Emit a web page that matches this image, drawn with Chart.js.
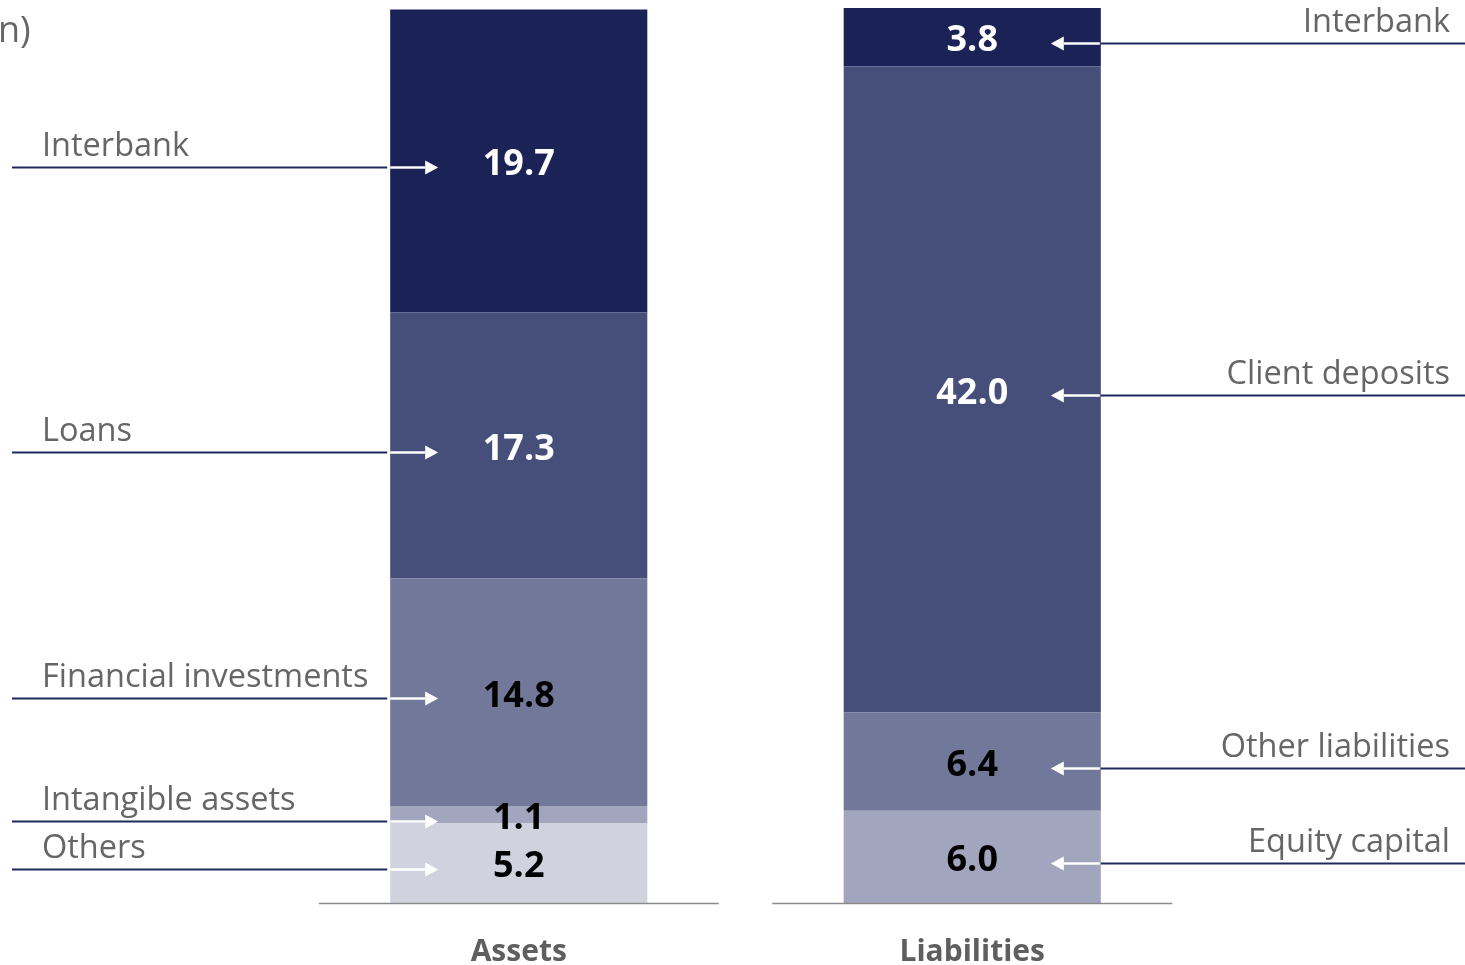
<!DOCTYPE html>
<html>
<head>
<meta charset="utf-8">
<title>Balance sheet structure</title>
<script src="https://cdn.jsdelivr.net/npm/chart.js@4.4.1/dist/chart.umd.min.js"></script>
<style>
  html, body { margin: 0; padding: 0; background: #fff; overflow: hidden; }
  #wrap { width: 1465px; height: 965px; position: relative; }
</style>
</head>
<body>
<div id="wrap"><canvas id="balanceChart"></canvas></div>
<script>
const categories = ['Assets', 'Liabilities'];
// listed bottom to top, as stacked
const assetItems = ['Others', 'Intangible assets', 'Financial investments', 'Loans', 'Interbank'];
const assetValues = [5.2, 1.1, 14.8, 17.3, 19.7];
const liabilityItems = ['Equity capital', 'Other liabilities', 'Client deposits', 'Interbank'];
const liabilityValues = [6.0, 6.4, 42.0, 3.8];
const unitNote = 'n)';

// darkest on top of each bar
const shades = ['#1a2256', '#454f7a', '#727899', '#a1a5bd', '#d0d2de'];
const leaderColor = '#1f2a5c';
const textGray = '#666666';
const fontFamily = '"Open Sans", "Noto Sans", sans-serif';

const datasets = [];
assetItems.forEach((name, i) => {
    const rank = assetItems.length - 1 - i;
    datasets.push({
        label: name,
        data: [assetValues[i], null],
        backgroundColor: shades[rank],
        side: 'left',
        cat: 0,
        valueColor: rank < 2 ? '#ffffff' : '#000000'
    });
});
liabilityItems.forEach((name, i) => {
    const rank = liabilityItems.length - 1 - i;
    datasets.push({
        label: name,
        data: [null, liabilityValues[i]],
        backgroundColor: shades[rank],
        side: 'right',
        cat: 1,
        valueColor: rank < 2 ? '#ffffff' : '#000000'
    });
});

function hLine(ctx, x1, x2, y, color, width) {
    ctx.beginPath();
    ctx.strokeStyle = color;
    ctx.lineWidth = width;
    ctx.moveTo(x1, y);
    ctx.lineTo(x2, y);
    ctx.stroke();
}

function whiteArrow(ctx, from, to, y) {
    const dir = Math.sign(to - from);
    const headStart = to - dir * 13;
    hLine(ctx, from, headStart, y, '#ffffff', 2.5);
    ctx.beginPath();
    ctx.fillStyle = '#ffffff';
    ctx.moveTo(to, y);
    ctx.lineTo(headStart, y - 7);
    ctx.lineTo(headStart, y + 7);
    ctx.closePath();
    ctx.fill();
}

const notesPlugin = {
    id: 'balanceNotes',
    afterDatasetsDraw(chart) {
        const { ctx, chartArea, scales: { x } } = chart;
        ctx.save();

        // separate baseline under each bar
        categories.forEach((c, i) => {
            const cx = x.getPixelForValue(i);
            hLine(ctx, cx - 200, cx + 200, chartArea.bottom + 0.5, '#8a8a8a', 1.5);
        });

        chart.data.datasets.forEach((ds, di) => {
            const bar = chart.getDatasetMeta(di).data[ds.cat];
            const cy = (bar.y + bar.base) / 2;
            const left = bar.x - bar.width / 2;
            const right = bar.x + bar.width / 2;
            const value = ds.data[ds.cat];

            ctx.font = 'bold 36px ' + fontFamily;
            ctx.fillStyle = ds.valueColor;
            ctx.textAlign = 'center';
            ctx.textBaseline = 'middle';
            ctx.fillText(value.toFixed(1), bar.x, cy + 4);

            const ly = Math.round(cy + 6) + 0.5;
            if (ds.side === 'left') {
                hLine(ctx, 12, left - 3, ly, leaderColor, 2);
                whiteArrow(ctx, left, left + 48, ly);
            } else {
                hLine(ctx, right, chart.width, ly, leaderColor, 2);
                whiteArrow(ctx, right - 1, right - 50, ly);
            }

            ctx.font = '32.5px ' + fontFamily;
            ctx.fillStyle = textGray;
            ctx.textBaseline = 'alphabetic';
            ctx.textAlign = ds.side === 'left' ? 'left' : 'right';
            ctx.fillText(ds.label, ds.side === 'left' ? 42 : 1450, ly - 12);
        });

        // clipped unit note in the corner
        ctx.font = '36px ' + fontFamily;
        ctx.fillStyle = textGray;
        ctx.textAlign = 'left';
        ctx.textBaseline = 'alphabetic';
        ctx.fillText(unitNote, -2, 42);
        ctx.restore();
    }
};

new Chart(document.getElementById('balanceChart'), {
    type: 'bar',
    data: { labels: categories, datasets: datasets },
    options: {
        responsive: true,
        maintainAspectRatio: false,
        animation: false,
        layout: { padding: { left: 292, right: 266, top: 8, bottom: 0 } },
        datasets: { bar: { barPercentage: 1, categoryPercentage: 0.567 } },
        plugins: { legend: { display: false }, tooltip: { enabled: false } },
        scales: {
            x: {
                stacked: true,
                grid: { display: false },
                border: { display: false },
                ticks: {
                    padding: 23,
                    color: '#5f5f5f',
                    font: { family: fontFamily, size: 30, weight: 'bold', lineHeight: 1.2 }
                },
                afterFit: scale => { scale.height = 62; }
            },
            y: {
                stacked: true,
                display: false,
                min: 0,
                max: 58.2
            }
        }
    },
    plugins: [notesPlugin]
});
</script>
</body>
</html>
